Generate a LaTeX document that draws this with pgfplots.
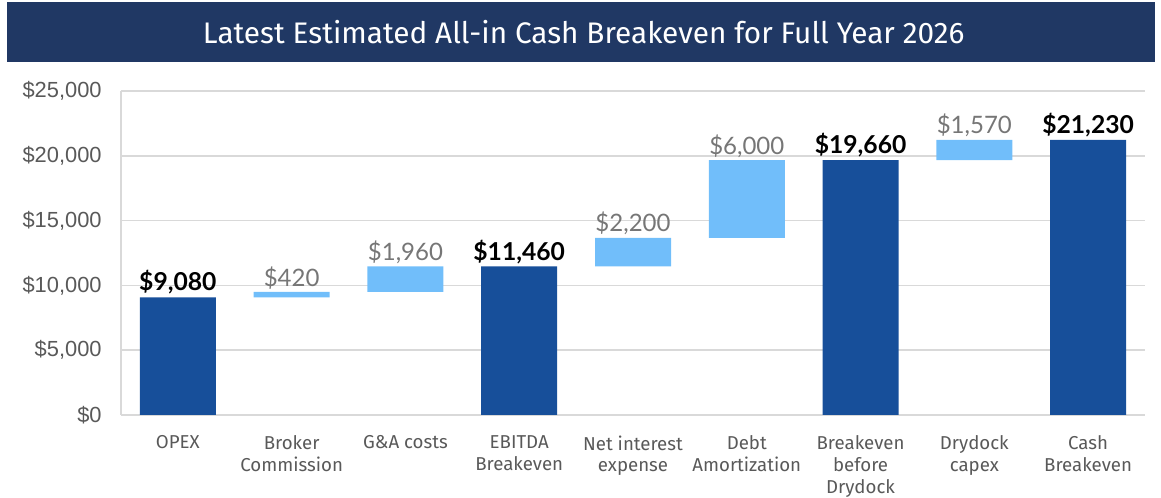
\documentclass[border=0pt]{standalone}
\usepackage{fontspec}
\setmainfont{Fira Sans}
\newfontfamily\lib{Liberation Sans}
\newfontfamily\lato{Lato}
\usepackage{pgfplots}
\pgfplotsset{compat=1.18}
\definecolor{banner}{RGB}{32,56,100}
\definecolor{darkbar}{RGB}{23,79,154}
\definecolor{lightbar}{RGB}{113,190,250}
\definecolor{gridc}{RGB}{217,217,217}
\definecolor{tickc}{RGB}{89,89,89}
\definecolor{lblc}{RGB}{118,118,118}
\pgfplotsset{commonax/.style={
  at={(0pt,0pt)}, anchor=south west,
  scale only axis, width=768pt, height=243pt,
  xmin=-0.5, xmax=8.5, ymin=0, ymax=25000, clip=false}}
\begin{document}
\begin{tikzpicture}
\useasboundingbox (-90.75pt,-62.25pt) rectangle (780pt,311.25pt);
\fill[banner] (-85.5pt,264.75pt) rectangle (775.5pt,309.5pt);
\node[text=white, font=\fontsize{22.3}{26}\selectfont] at (347pt,287.5pt) {Latest Estimated All-in Cash Breakeven for Full Year 2026};
\begin{axis}[
  commonax,
  ybar stacked, bar width=57pt,
  xtick={0,...,8},
  xticklabels={OPEX,{Broker\\Commission},{G\&A costs},{EBITDA\\Breakeven},{Net interest\\expense},{Debt\\Amortization},{Breakeven\\before\\Drydock},{Drydock\\capex},{Cash\\Breakeven}},
  xticklabel style={align=center, font=\fontsize{14}{16.3}\selectfont, text=tickc, yshift=-12pt},
  ytick={0,5000,10000,15000,20000,25000},
  scaled y ticks=false,
  yticklabel={\$\pgfmathprintnumber{\tick}},
  yticklabel style={font=\lib\fontsize{16.4}{19}\selectfont, text=tickc, xshift=-11pt},
  /pgf/number format/.cd, fixed, 1000 sep={,}, assume math mode=true, /pgfplots/.cd,
  major tick length=0pt,
  ymajorgrids, grid style={draw=gridc, line width=1.1pt},
  axis lines*=left, axis line style={draw=gridc, line width=1.1pt},
]
\addplot[draw=none, fill=none] coordinates {(0,0) (1,9080) (2,9500) (3,0) (4,11460) (5,13660) (6,0) (7,19660) (8,0)};
\addplot[draw=none, fill=darkbar] coordinates {(0,9080) (1,0) (2,0) (3,11460) (4,0) (5,0) (6,19660) (7,0) (8,21230)};
\addplot[draw=none, fill=lightbar] coordinates {(0,0) (1,420) (2,1960) (3,0) (4,2200) (5,6000) (6,0) (7,1570) (8,0)};
\end{axis}
\begin{axis}[commonax, hide axis,
  /pgf/number format/.cd, fixed, 1000 sep={,}, assume math mode=true, /pgfplots/.cd]
\addplot[only marks, mark=none, point meta=explicit,
  nodes near coords={\$\pgfmathprintnumber{\pgfplotspointmeta}},
  every node near coord/.style={anchor=south, font=\lato\bfseries\fontsize{18.5}{21}\selectfont, text=black, inner sep=2pt}]
  coordinates {(0,9080) [9080] (3,11460) [11460] (6,19660) [19660] (8,21230) [21230]};
\addplot[only marks, mark=none, point meta=explicit,
  nodes near coords={\$\pgfmathprintnumber{\pgfplotspointmeta}},
  every node near coord/.style={anchor=south, font=\lato\fontsize{18}{21}\selectfont, text=lblc, inner sep=2pt}]
  coordinates {(1,9500) [420] (2,11460) [1960] (4,13660) [2200] (5,19660) [6000] (7,21230) [1570]};
\end{axis}
\end{tikzpicture}
\end{document}
